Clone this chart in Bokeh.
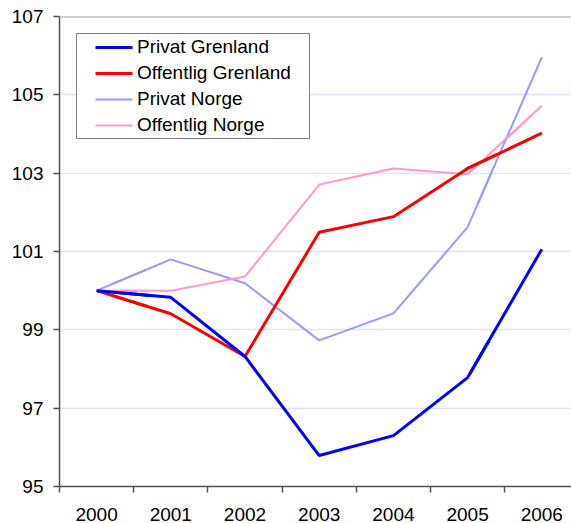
from bokeh.plotting import figure
from bokeh.models import (Range1d, FixedTicker, Legend, LegendItem, Span,
                          ColumnDataSource)
from bokeh.embed import file_html
from bokeh.resources import INLINE

years = [2000, 2001, 2002, 2003, 2004, 2005, 2006]
privat_grenland = [100.0, 99.83, 98.32, 95.79, 96.30, 97.78, 101.06]
offentlig_grenland = [100.0, 99.41, 98.32, 101.49, 101.89, 103.12, 104.02]
privat_norge = [100.0, 100.80, 100.19, 98.73, 99.42, 101.62, 105.96]
offentlig_norge = [100.0, 100.0, 100.36, 102.71, 103.12, 102.97, 104.72]
y_ticks = [95, 97, 99, 101, 103, 105, 107]
series_names = ["Privat Grenland", "Offentlig Grenland", "Privat Norge", "Offentlig Norge"]
series_colors = ["#0000FF", "#FF0000", "#9999FF", "#FF99CC"]
series_widths = [3, 3, 2, 2]
series_fields = ["pg", "og", "pn", "on"]

FONT = "Liberation Sans"

p = figure(width=571, height=523, output_backend="svg", toolbar_location=None,
           x_range=Range1d(years[0] - 0.5, years[-1] + 0.4),
           y_range=Range1d(y_ticks[0], y_ticks[-1]),
           min_border_top=16, min_border_left=59, min_border_right=0,
           min_border_bottom=37)
p.outline_line_color = None
p.background_fill_color = "white"
p.border_fill_color = "white"

src = ColumnDataSource(dict(x=years, pg=privat_grenland, og=offentlig_grenland,
                            pn=privat_norge, on=offentlig_norge))

p.xgrid.grid_line_color = None
p.ygrid.grid_line_color = "#E0E0FF"
p.ygrid.grid_line_width = 1.5
p.ygrid.ticker = FixedTicker(ticks=y_ticks)

p.add_layout(Span(location=y_ticks[-1], dimension="width",
                  line_color="#A6A6A6", line_width=2))

# legend proxies (same data, drawn underneath the solid series lines);
# the dash pattern indents the legend swatch like the reference
proxies = {}
for i in [2, 3, 1, 0]:
    proxies[i] = p.line("x", series_fields[i], source=src, line_color=series_colors[i],
                        line_width=series_widths[i], line_dash="0 16 37 400")

for i in [2, 3, 1, 0]:
    p.line("x", series_fields[i], source=src, line_color=series_colors[i],
           line_width=series_widths[i])

ya = p.yaxis[0]
ya.ticker = FixedTicker(ticks=y_ticks, minor_ticks=[])
ya.axis_line_color = "#505050"
ya.axis_line_width = 1.5
ya.major_tick_line_color = "#505050"
ya.major_tick_line_width = 1.5
ya.major_tick_out = 6
ya.major_tick_in = 0
ya.major_label_standoff = 10
ya.major_label_text_font = FONT
ya.major_label_text_font_size = "19px"
ya.major_label_text_color = "black"

xa = p.xaxis[0]
xa.ticker = FixedTicker(ticks=years, minor_ticks=[y - 0.5 for y in years] + [years[-1] + 0.5])
xa.axis_line_color = "#505050"
xa.axis_line_width = 1.5
xa.major_tick_line_color = None
xa.major_tick_out = 0
xa.major_tick_in = 0
xa.minor_tick_line_color = "#505050"
xa.minor_tick_line_width = 1.5
xa.minor_tick_out = 6
xa.minor_tick_in = 0
xa.major_label_standoff = 15
xa.major_label_text_font = FONT
xa.major_label_text_font_size = "19px"
xa.major_label_text_color = "black"
xa.major_label_overrides = {y: str(y) for y in years}

legend = Legend(items=[LegendItem(label=series_names[i], renderers=[proxies[i]])
                       for i in range(4)],
                location="top_left")
legend.margin = 17
legend.padding = 2
legend.spacing = 4
legend.glyph_width = 55
legend.glyph_height = 20
legend.label_height = 20
legend.label_width = 170
legend.label_standoff = 3
legend.label_text_font = FONT
legend.label_text_font_size = "19px"
legend.label_text_color = "black"
legend.border_line_color = "black"
legend.border_line_width = 1
legend.background_fill_color = "white"
legend.background_fill_alpha = 1
p.add_layout(legend)

open("out.html", "w").write(file_html(p, INLINE))
